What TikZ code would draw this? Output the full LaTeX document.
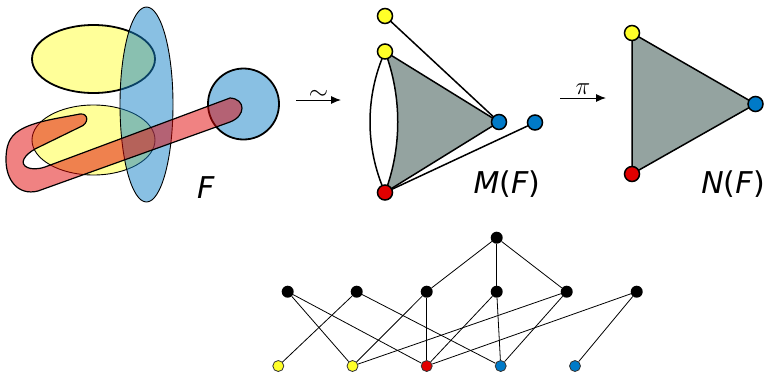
\documentclass[tikz,border=0pt]{standalone}
\usepackage{fontspec}
\usepackage{amsmath}
\usetikzlibrary{arrows.meta,backgrounds}
\setsansfont{DejaVu Sans}[ItalicFont={DejaVu Sans Oblique}]
\definecolor{hyperYellow}{RGB}{255,255,153}
\definecolor{hyperBlue}{RGB}{20,130,200}
\definecolor{hyperRed}{RGB}{225,5,5}
\definecolor{vertexYellow}{RGB}{255,255,40}
\definecolor{vertexBlue}{RGB}{0,122,200}
\definecolor{vertexRed}{RGB}{225,0,0}
\definecolor{faceGray}{RGB}{148,163,160}

\begin{document}
\begin{tikzpicture}[x=1pt,y=-1pt,
  vtx/.style={circle,draw=black,line width=1.5pt,inner sep=0pt,minimum size=15pt},
  dot/.style={circle,fill=black,inner sep=0pt,minimum size=12pt},
  leaf/.style={circle,draw=black!80,line width=0.8pt,inner sep=0pt,minimum size=11pt},
  link/.style={line width=1.5pt},
  hasse/.style={line width=0.8pt},
  mapArrow/.style={-{Latex[length=10pt,width=8pt]},line width=1pt},
  lbl/.style={font=\fontsize{30}{36}\selectfont\sffamily,anchor=base}]
\useasboundingbox (0,0) rectangle (767,375);

% hypergraph F
\filldraw[fill=hyperYellow,line width=1.8pt] (93.5,59) ellipse [x radius=61.5pt,y radius=34pt];
\filldraw[fill=hyperYellow,line width=0.9pt] (93.5,140) ellipse [x radius=61.5pt,y radius=35pt];
\filldraw[fill=hyperBlue,fill opacity=0.5,line width=0.9pt] (146.5,104.5) ellipse [x radius=26.5pt,y radius=97.5pt];
\filldraw[fill=hyperBlue,fill opacity=0.5,line width=1.8pt] (243.5,104) circle [radius=35.5pt];
\filldraw[fill=hyperRed,fill opacity=0.5,line width=1.2pt] (80,114) .. controls (60,118) and (35,121) .. (20,130) .. controls (8,137) and (6,148) .. (6,160) .. controls (6,180) and (18,196) .. (38,191) -- (230,122) .. controls (246,116) and (246,99) .. (230,98) -- (45,167) .. controls (30,172) and (20,166) .. (24,159) .. controls (26,155) and (30,152) .. (35,149) -- (80,127) .. controls (89,124) and (89,113) .. (80,114) -- cycle;
\node[lbl] (labF) at (206,198) {\textit{F}};

% maps
\coordinate (simL) at (296,100); \coordinate (simR) at (341,100);
\draw[mapArrow] (simL) -- node[above,inner sep=0pt,font=\fontsize{24}{28}\selectfont] {$\sim$} (simR);
\coordinate (piL) at (560,98); \coordinate (piR) at (606,98);
\draw[mapArrow] (piL) -- node[above,font=\fontsize{24}{28}\selectfont] {$\pi$} (piR);

% M(F)
\node[vtx,fill=vertexYellow] (ya) at (385,16) {};
\node[vtx,fill=vertexYellow] (yb) at (385,51.5) {};
\node[vtx,fill=vertexBlue] (ba) at (499,122) {};
\node[vtx,fill=vertexBlue] (bb) at (535,122.5) {};
\node[vtx,fill=vertexRed] (rm) at (385,192.5) {};
\begin{pgfonlayer}{background}
\filldraw[fill=faceGray,link] (yb.center) .. controls +(17,45) and +(17,-45) .. (rm.center) -- (ba.center) -- cycle;
\draw[link] (yb.center) .. controls +(-20,45) and +(-20,-45) .. (rm.center);
\draw[link] (ya.center) -- (ba.center); \draw[link] (rm.center) -- (bb.center);
\end{pgfonlayer}
\node[lbl] (labM) at (507,193) {\textit{M}(\textit{F})};

% N(F)
\node[vtx,fill=vertexYellow] (ny) at (632,33) {};
\node[vtx,fill=vertexBlue] (nb) at (755.5,104) {};
\node[vtx,fill=vertexRed] (nr) at (632,174) {};
\begin{pgfonlayer}{background}
\filldraw[fill=faceGray,link] (ny.center) -- (nb.center) -- (nr.center) -- cycle;
\end{pgfonlayer}
\node[lbl] (labN) at (733,193) {\textit{N}(\textit{F})};

% incidence poset
\node[dot] (top) at (496.7,237.7) {};
\node[dot] (m1) at (287.7,291.7) {};
\node[dot] (m2) at (356.7,291.7) {};
\node[dot] (m3) at (426.7,291.7) {};
\node[dot] (m4) at (496.7,291.7) {};
\node[dot] (m5) at (566.7,291.7) {};
\node[dot] (m6) at (636.7,291.7) {};
\node[leaf,fill=vertexYellow] (b1) at (278.3,366) {};
\node[leaf,fill=vertexYellow] (b2) at (352.5,366) {};
\node[leaf,fill=vertexRed] (b3) at (426.7,366) {};
\node[leaf,fill=vertexBlue] (b4) at (500.7,366) {};
\node[leaf,fill=vertexBlue] (b5) at (575,366) {};
\draw[hasse] (m3)--(top); \draw[hasse] (m4)--(top); \draw[hasse] (m5)--(top);
\draw[hasse] (m1)--(b2); \draw[hasse] (m1)--(b3);
\draw[hasse] (m2)--(b1); \draw[hasse] (m2)--(b4);
\draw[hasse] (m3)--(b2); \draw[hasse] (m3)--(b3);
\draw[hasse] (m4)--(b3); \draw[hasse] (m4)--(b4);
\draw[hasse] (m5)--(b2); \draw[hasse] (m5)--(b4);
\draw[hasse] (m6)--(b3); \draw[hasse] (m6)--(b5);
\end{tikzpicture}
\end{document}
